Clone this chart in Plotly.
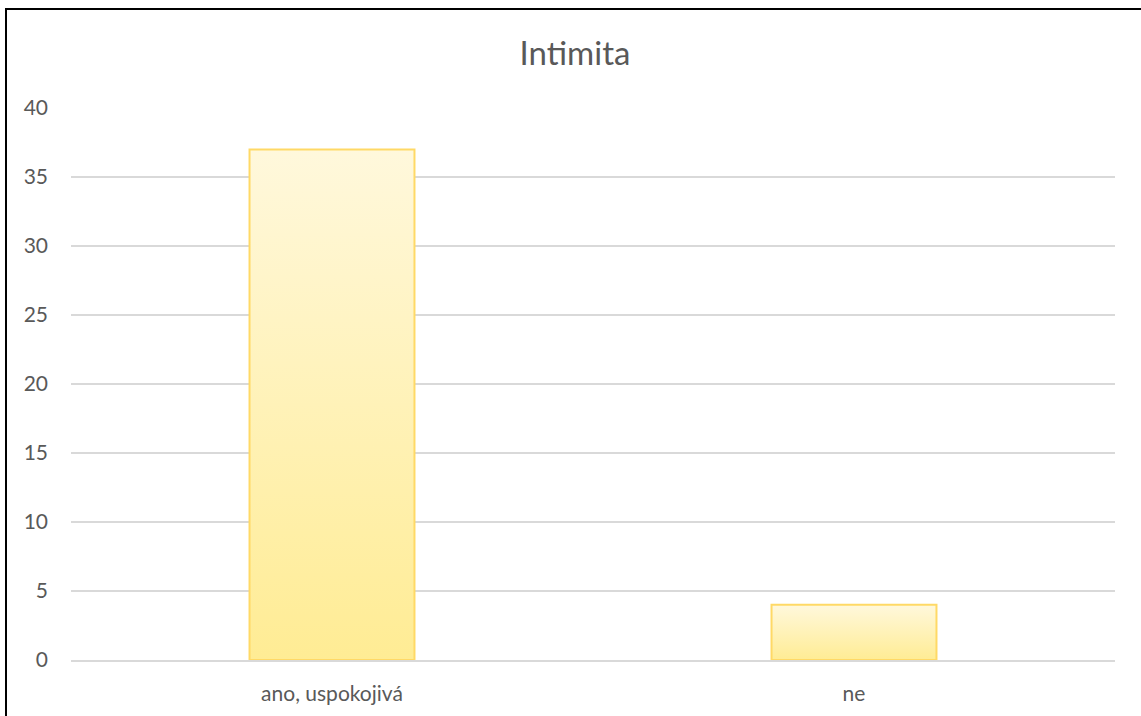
import plotly.graph_objects as go

categories = ["ano, uspokojivá", "ne"]
values = [37, 4]
tick_values = [0, 5, 10, 15, 20, 25, 30, 35, 40]

BAR_W = 0.316
fig = go.Figure()
for i, (cat, v) in enumerate(zip(categories, values)):
    xs = [i - BAR_W / 2, i - BAR_W / 2, i + BAR_W / 2, i + BAR_W / 2, i - BAR_W / 2]
    ys = [0, v, v, 0, 0]
    fig.add_trace(go.Scatter(
        x=xs, y=ys, mode="lines", fill="toself",
        line=dict(color="#FFD966", width=2),
        fillgradient=dict(type="vertical",
                          colorscale=[[0, "#FFEC94"], [1, "#FFF8DC"]]),
        name=cat, hoverinfo="text", text=f"{cat}: {v}", showlegend=False,
    ))

fig.update_layout(
    width=1141, height=716,
    margin=dict(l=71, r=26, t=108, b=56),
    paper_bgcolor="white", plot_bgcolor="white",
    font=dict(family="Lato, Open Sans, sans-serif", color="#595959"),
    title=dict(text="Intimita", x=575 / 1141, xref="container", xanchor="center",
               y=1 - 53 / 716, yanchor="middle",
               font=dict(size=33, color="#595959")),
    xaxis=dict(range=[-0.5, 1.5], tickvals=list(range(len(categories))),
               ticktext=categories, showgrid=False, zeroline=False,
               showline=True, linecolor="#D9D9D9", linewidth=1.5,
               tickfont=dict(size=21, color="#595959"), ticks="",
               ticklabelstandoff=14, fixedrange=True),
    yaxis=dict(range=[0, 40], tickvals=tick_values, showgrid=True,
               gridcolor="#D9D9D9", gridwidth=1.5, zeroline=False,
               showline=False, tickfont=dict(size=21, color="#595959"),
               ticks="", ticklabelstandoff=22, fixedrange=True),
    shapes=[dict(type="rect", xref="paper", yref="paper",
                 x0=(6 - 71) / 1044, x1=(1160 - 71) / 1044,
                 y0=(660 - 740) / 552, y1=(660 - 9) / 552,
                 line=dict(color="black", width=2), fillcolor="rgba(0,0,0,0)",
                 layer="above")],
)

fig.write_html("out.html")
